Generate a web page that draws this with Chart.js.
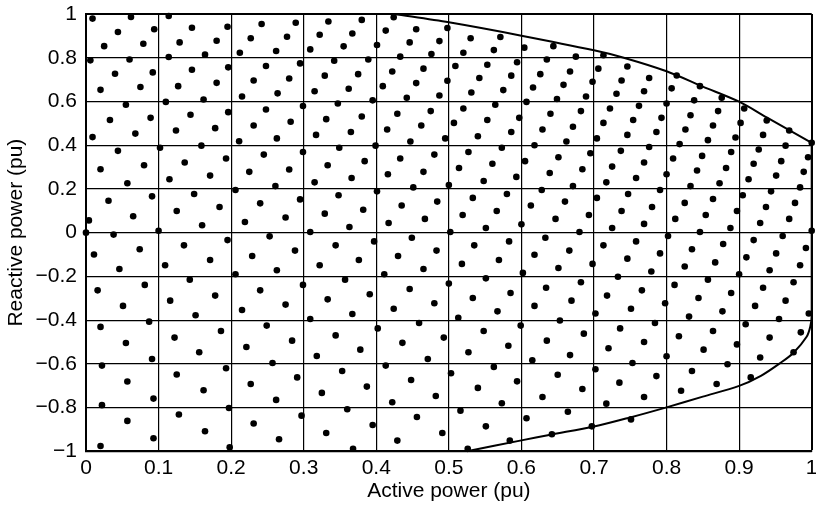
<!DOCTYPE html>
<html lang="en">
<head>
    <meta charset="UTF-8">
    <title>Active / reactive power capability</title>
    <script src="https://cdn.jsdelivr.net/npm/chart.js"></script>
    <style>
        body {
            margin: 0;
            background: #fff;
        }
        #wrap {
            width: 816px;
            height: 508px;
        }
    </style>
</head>
<body>
    <div id="wrap">
        <canvas id="pqChart" width="816" height="508"></canvas>
    </div>

    <script>
        // tick positions
        const xTickValues = [0, 0.1, 0.2, 0.3, 0.4, 0.5, 0.6, 0.7, 0.8, 0.9, 1];
        const yTickValues = [-1, -0.8, -0.6, -0.4, -0.2, 0, 0.2, 0.4, 0.6, 0.8, 1];

        // operating points [P, Q], upper band
        const dotsUpper = [
            [0.009,0.979],[0.062,0.986],[0.114,0.991],[0.146,0.937],[0.195,0.942],[0.242,0.954],[0.044,0.918],[0.094,0.930],
            [0.025,0.853],[0.079,0.864],[0.129,0.870],[0.180,0.878],[0.227,0.889],[0.212,0.823],[0.262,0.831],[0.006,0.788],
            [0.060,0.792],[0.114,0.803],[0.164,0.814],[0.040,0.727],[0.092,0.733],[0.146,0.745],[0.196,0.756],[0.248,0.762],
            [0.020,0.653],[0.075,0.666],[0.127,0.670],[0.180,0.685],[0.231,0.696],[0.215,0.623],[0.264,0.637],[0.055,0.585],
            [0.110,0.598],[0.162,0.609],[0.033,0.515],[0.089,0.525],[0.144,0.539],[0.196,0.551],[0.248,0.563],[0.009,0.437],
            [0.068,0.453],[0.124,0.467],[0.178,0.478],[0.231,0.490],[0.211,0.418],[0.263,0.431],[0.102,0.388],[0.159,0.398],
            [0.044,0.374],[0.080,0.308],[0.020,0.290],[0.136,0.321],[0.193,0.339],[0.245,0.357],[0.225,0.278],
            [0.289,0.960],[0.277,0.896],[0.334,0.966],[0.380,0.973],[0.322,0.905],[0.367,0.911],[0.309,0.838],[0.355,0.852],
            [0.424,0.985],[0.413,0.924],[0.455,0.930],[0.401,0.858],[0.446,0.870],[0.487,0.876],[0.498,0.936],[0.433,0.805],
            [0.476,0.817],[0.530,0.889],[0.571,0.895],[0.520,0.823],[0.562,0.835],[0.604,0.846],[0.295,0.774],[0.280,0.705],
            [0.342,0.786],[0.389,0.792],[0.329,0.718],[0.375,0.725],[0.315,0.647],[0.362,0.658],[0.299,0.579],[0.347,0.591],
            [0.395,0.605],[0.422,0.737],[0.465,0.750],[0.409,0.670],[0.455,0.684],[0.442,0.617],[0.487,0.627],[0.498,0.695],
            [0.509,0.762],[0.553,0.768],[0.594,0.779],[0.542,0.707],[0.586,0.718],[0.531,0.641],[0.575,0.652],[0.626,0.725],
            [0.616,0.664],[0.607,0.598],[0.282,0.507],[0.331,0.519],[0.380,0.531],[0.317,0.447],[0.365,0.460],[0.349,0.388],
            [0.299,0.369],[0.399,0.398],[0.429,0.544],[0.475,0.556],[0.415,0.472],[0.462,0.490],[0.447,0.417],[0.495,0.431],
            [0.520,0.568],[0.564,0.585],[0.507,0.502],[0.553,0.515],[0.540,0.441],[0.586,0.460],[0.597,0.525],[0.573,0.388],
            [0.629,0.472],[0.618,0.400],[0.280,0.289],[0.333,0.308],[0.384,0.327],[0.433,0.339],[0.480,0.357],[0.527,0.369],
            [0.560,0.315],[0.514,0.296],[0.465,0.278],[0.605,0.327],
            [0.644,0.853],[0.635,0.792],[0.675,0.805],[0.713,0.811],[0.667,0.737],[0.706,0.750],[0.746,0.760],[0.658,0.676],
            [0.698,0.690],[0.738,0.696],[0.776,0.707],[0.814,0.719],[0.846,0.670],[0.649,0.611],[0.689,0.623],[0.731,0.635],
            [0.769,0.647],[0.807,0.660],[0.876,0.617],[0.838,0.605],[0.800,0.591],[0.640,0.544],[0.682,0.556],[0.722,0.568],
            [0.762,0.580],[0.907,0.568],[0.871,0.556],[0.833,0.537],[0.793,0.525],[0.754,0.515],[0.713,0.502],[0.671,0.484],
            [0.938,0.513],[0.902,0.502],[0.864,0.490],[0.826,0.472],[0.786,0.460],[0.746,0.447],[0.704,0.431],[0.662,0.417],
            [0.969,0.467],[0.933,0.447],[0.895,0.435],[0.857,0.423],[0.818,0.405],[0.776,0.392],[0.737,0.374],[0.695,0.363],
            [0.651,0.345],[1.000,0.411],[0.964,0.398],[0.927,0.380],[0.889,0.369],[0.849,0.351],[0.809,0.339],[0.769,0.321],
            [0.725,0.302],[0.684,0.290],[0.639,0.273],[0.995,0.345],[0.958,0.327],[0.920,0.315],[0.882,0.296],[0.842,0.284],
            [0.989,0.278]
        ];

        // middle band
        const dotsMiddle = [
            [0.057,0.226],[0.115,0.244],[0.171,0.261],[0.261,0.213],[0.031,0.146],[0.091,0.166],[0.149,0.177],[0.206,0.195],
            [0.240,0.134],[0.004,0.056],[0.065,0.075],[0.125,0.099],[0.184,0.117],[0.160,0.034],[0.219,0.049],[0,0],
            [0.038,-0.009],[0.100,0.009],[0.135,-0.058],[0.195,-0.034],[0.253,-0.017],[0.011,-0.100],[0.074,-0.076],[0.171,-0.125],
            [0.229,-0.107],[0.046,-0.166],[0.109,-0.149],[0.206,-0.190],[0.263,-0.172],[0.143,-0.215],[0.016,-0.264],[0.081,-0.239],
            [0.178,-0.288],[0.240,-0.264],[0.116,-0.311],[0.051,-0.335],[0.151,-0.378],[0.215,-0.354],[0.087,-0.407],[0.020,-0.431],
            [0.249,-0.425],[0.186,-0.450],[0.122,-0.480],
            [0.315,0.230],[0.366,0.250],[0.416,0.267],[0.548,0.236],[0.593,0.255],[0.451,0.207],[0.500,0.218],[0.295,0.152],
            [0.348,0.171],[0.401,0.189],[0.275,0.069],[0.329,0.087],[0.382,0.105],[0.435,0.124],[0.484,0.142],[0.533,0.159],
            [0.580,0.177],[0.628,0.195],[0.363,0.026],[0.417,0.044],[0.467,0.063],[0.519,0.081],[0.566,0.099],[0.613,0.124],
            [0.551,0.021],[0.600,0.038],[0.309,0.003],[0.397,-0.040],[0.502,0.003],[0.449,-0.023],[0.344,-0.058],[0.288,-0.082],
            [0.430,-0.107],[0.483,-0.082],[0.535,-0.058],[0.583,-0.040],[0.376,-0.125],[0.322,-0.149],[0.465,-0.166],[0.411,-0.190],
            [0.518,-0.143],[0.569,-0.125],[0.618,-0.101],[0.602,-0.184],[0.357,-0.215],[0.299,-0.239],[0.446,-0.258],[0.391,-0.282],
            [0.500,-0.233],[0.551,-0.209],[0.585,-0.276],[0.333,-0.305],[0.275,-0.329],[0.424,-0.348],[0.480,-0.323],[0.533,-0.299],
            [0.618,-0.335],[0.567,-0.360],[0.309,-0.395],[0.367,-0.372],[0.513,-0.389],[0.459,-0.413],[0.402,-0.438],[0.599,-0.425],
            [0.548,-0.450],[0.344,-0.470],[0.493,-0.480],
            [0.717,0.230],[0.758,0.250],[0.800,0.267],[0.913,0.244],[0.951,0.261],[0.671,0.213],[0.833,0.213],[0.873,0.226],
            [0.984,0.207],[0.704,0.159],[0.747,0.177],[0.791,0.195],[0.660,0.142],[0.738,0.099],[0.780,0.117],[0.825,0.136],
            [0.864,0.154],[0.905,0.171],[0.944,0.189],[0.647,0.063],[0.693,0.081],[0.725,0.021],[0.769,0.040],[0.812,0.063],
            [0.854,0.081],[0.897,0.099],[0.937,0.117],[0.977,0.136],[0.888,0.021],[0.929,0.044],[0.969,0.063],[0.680,0.003],
            [0.633,-0.023],[0.846,0.003],[0.802,-0.015],[1.000,0.009],[0.758,-0.040],[0.713,-0.058],[0.666,-0.082],[0.878,-0.052],
            [0.835,-0.076],[0.920,-0.034],[0.960,-0.015],[0.791,-0.095],[0.746,-0.119],[0.698,-0.143],[0.651,-0.162],[0.867,-0.136],
            [0.825,-0.155],[0.910,-0.113],[0.951,-0.095],[0.992,-0.070],[0.779,-0.178],[0.733,-0.202],[0.984,-0.149],[0.942,-0.172],
            [0.900,-0.190],[0.857,-0.215],[0.682,-0.227],[0.634,-0.252],[0.811,-0.239],[0.766,-0.264],[0.718,-0.288],[0.669,-0.311],
            [0.889,-0.276],[0.844,-0.299],[0.798,-0.323],[0.751,-0.348],[0.702,-0.370],[0.653,-0.402],[0.933,-0.252],[0.975,-0.227],
            [0.922,-0.335],[0.964,-0.311],[0.877,-0.360],[0.831,-0.384],[0.784,-0.413],[0.736,-0.438],[0.686,-0.462],[0.996,-0.370],
            [0.955,-0.395],[0.909,-0.419],[0.864,-0.450],[0.817,-0.474],[0.985,-0.456],[0.942,-0.480]
        ];

        // lower band
        const dotsLower = [
            [0.055,-0.505],[0.156,-0.547],[0.221,-0.523],[0.091,-0.578],[0.022,-0.608],[0.057,-0.681],[0.125,-0.649],[0.193,-0.620],
            [0.257,-0.596],[0.162,-0.721],[0.227,-0.692],[0.093,-0.759],[0.022,-0.789],[0.197,-0.802],[0.262,-0.765],[0.128,-0.832],
            [0.057,-0.861],[0.231,-0.873],[0.164,-0.908],[0.093,-0.940],[0.020,-0.976],[0.198,-0.982],
            [0.284,-0.494],[0.436,-0.504],[0.318,-0.564],[0.378,-0.535],[0.471,-0.578],[0.527,-0.547],[0.582,-0.517],[0.413,-0.608],
            [0.291,-0.662],[0.353,-0.633],[0.503,-0.643],[0.562,-0.614],[0.615,-0.584],[0.448,-0.674],[0.387,-0.704],[0.325,-0.733],
            [0.540,-0.710],[0.594,-0.680],[0.422,-0.776],[0.482,-0.747],[0.629,-0.752],[0.360,-0.808],[0.297,-0.837],[0.573,-0.780],
            [0.456,-0.843],[0.516,-0.814],[0.395,-0.880],[0.331,-0.916],[0.266,-0.945],[0.607,-0.849],[0.491,-0.916],[0.551,-0.886],
            [0.429,-0.951],[0.368,-0.988],[0.526,-0.988],[0.584,-0.951],
            [0.635,-0.494],[0.667,-0.560],[0.720,-0.529],[0.769,-0.500],[0.851,-0.535],[0.897,-0.511],[0.800,-0.565],[0.929,-0.571],
            [0.975,-0.547],[0.753,-0.596],[0.702,-0.625],[0.650,-0.650],[0.884,-0.602],[0.835,-0.633],[0.786,-0.656],[0.735,-0.686],
            [0.684,-0.715],[0.916,-0.662],[0.869,-0.692],[0.820,-0.723],[0.769,-0.752],[0.717,-0.782],[0.664,-0.819],[0.751,-0.854],
            [0.697,-0.886],[0.642,-0.922]
        ];

        // capability limit
        const limitTop = [
            [0.425,1],[0.5,0.962],[0.6,0.901],[0.7,0.834],[0.741,0.8],[0.8,0.738],[0.85,0.668],[0.9,0.599],[0.938,0.527],[1,0.411]
        ];
        const limitRight = [
            [1,0.411],[1,-0.38],[0.998,-0.43],[0.993,-0.476],[0.975,-0.549],[0.956,-0.598],[0.93,-0.655],[0.9,-0.701],
            [0.85,-0.75],[0.8,-0.799],[0.75,-0.845],[0.7,-0.887],[0.64,-0.924],[0.6,-0.95],[0.525,-1]
        ];

        const toXY = arr => arr.map(p => ({ x: p[0], y: p[1] }));
        const fmt = v => {
            const r = Math.round(v * 10) / 10;
            return r < 0 ? '\u2212' + Math.abs(r) : String(r);
        };
        const FONT = "'Liberation Sans', Arial, Helvetica, sans-serif";

        window.onload = function() {
            const ctx = document.getElementById('pqChart').getContext('2d');
            new Chart(ctx, {
                type: 'scatter',
                data: {
                    datasets: [
                        {
                            data: toXY(limitTop),
                            showLine: true,
                            borderColor: '#000',
                            borderWidth: 2,
                            pointRadius: 0,
                            tension: 0.3,
                            clip: false
                        },
                        {
                            data: toXY(limitRight),
                            showLine: true,
                            borderColor: '#000',
                            borderWidth: 2,
                            pointRadius: 0,
                            tension: 0.3,
                            clip: false
                        },
                        {
                            data: toXY(dotsUpper.concat(dotsMiddle, dotsLower)),
                            pointRadius: 3.3,
                            pointBackgroundColor: '#000',
                            pointBorderWidth: 0,
                            clip: false
                        }
                    ]
                },
                options: {
                    responsive: false,
                    animation: false,
                    devicePixelRatio: 1,
                    layout: { padding: { top: 14, right: 4.3, left: 0, bottom: 0 } },
                    plugins: {
                        legend: { display: false },
                        tooltip: { enabled: false }
                    },
                    scales: {
                        x: {
                            type: 'linear',
                            min: 0,
                            max: 1,
                            afterBuildTicks: s => { s.ticks = xTickValues.map(v => ({ value: v })); },
                            afterFit: s => { s.height = 56.7; s.paddingLeft = 0; s.paddingRight = 0; },
                            ticks: {
                                callback: v => fmt(v),
                                color: '#000',
                                padding: 4,
                                maxRotation: 0,
                                autoSkip: false,
                                font: { family: FONT, size: 21 }
                            },
                            grid: {
                                color: '#000',
                                lineWidth: c => (c.tick && c.tick.value === 1) ? 2 : 1.2,
                                drawTicks: false
                            },
                            border: { color: '#000', width: 2 },
                            title: {
                                display: true,
                                text: 'Active power (pu)',
                                color: '#000',
                                padding: { top: 0, bottom: 3.7 },
                                font: { family: FONT, size: 21 }
                            }
                        },
                        y: {
                            type: 'linear',
                            min: -1,
                            max: 1,
                            afterBuildTicks: s => { s.ticks = yTickValues.map(v => ({ value: v })); },
                            afterFit: s => { s.width = 86; s.paddingTop = 0; s.paddingBottom = 0; },
                            ticks: {
                                callback: v => fmt(v),
                                color: '#000',
                                padding: 9,
                                autoSkip: false,
                                font: { family: FONT, size: 21 }
                            },
                            grid: {
                                color: '#000',
                                lineWidth: c => (c.tick && c.tick.value === 1) ? 2 : 1.2,
                                drawTicks: false
                            },
                            border: { color: '#000', width: 2 },
                            title: {
                                display: true,
                                text: 'Reactive power (pu)',
                                color: '#000',
                                padding: { top: 3.6, bottom: 0 },
                                font: { family: FONT, size: 21 }
                            }
                        }
                    }
                }
            });
        };
    </script>
</body>
</html>
